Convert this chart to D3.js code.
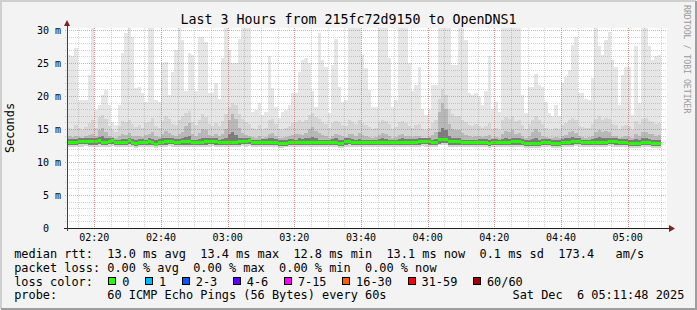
<!DOCTYPE html>
<html>
<head>
<meta charset="utf-8">
<script src="https://cdn.jsdelivr.net/npm/d3@7"></script>
<style>
html, body { margin: 0; padding: 0; background: #f3f3f3; }
svg { display: block; }
text { font-family: "DejaVu Sans Mono", monospace; white-space: pre; }
</style>
</head>
<body>
<svg id="chart" width="697" height="310"></svg>
<script>
// one value per minute, 02:12 .. 05:09 (ms)
var medianRtt = [
  13.0,13.0,13.0,13.1,13.1,13.1,13.1,13.1,13.1,13.2,
  13.0,13.0,13.1,13.2,12.9,12.9,13.0,13.0,13.2,13.0,
  12.8,13.0,13.0,12.9,13.1,12.9,12.7,13.0,13.0,13.1,
  13.1,13.1,13.0,13.0,13.1,13.1,13.1,12.9,12.9,13.0,
  13.0,13.1,13.1,13.1,13.1,12.9,12.9,12.9,13.0,13.0,
  13.0,13.1,13.1,13.1,13.2,12.9,12.9,12.9,13.0,13.0,
  13.0,13.0,13.0,12.8,12.8,12.8,13.0,13.0,12.9,13.0,
  13.0,13.0,13.0,13.0,13.0,12.9,12.9,12.9,12.9,13.0,
  13.0,12.8,12.8,13.1,13.1,12.9,12.9,12.9,12.9,12.9,
  12.9,12.9,12.9,12.9,12.9,12.9,12.9,12.9,12.9,13.0,
  13.0,13.0,13.0,13.0,13.0,13.1,13.1,13.1,13.1,12.9,
  12.9,13.4,13.4,13.4,13.1,13.1,13.1,13.1,12.9,12.9,
  12.9,12.9,12.9,13.0,13.0,13.0,12.8,13.0,13.0,12.9,
  12.9,12.9,12.9,13.1,13.1,13.1,13.0,12.8,12.8,12.8,
  12.8,12.8,13.0,13.0,13.0,12.8,12.8,12.8,13.0,13.0,
  13.0,13.1,13.1,13.1,12.9,12.9,12.9,12.9,12.9,13.0,
  13.0,13.0,13.1,13.1,13.1,13.0,13.0,13.0,12.8,12.8,
  12.8,12.8,13.0,13.0,13.0,12.8,12.8,12.8
];
// slowest ping of each minute
var smokeMax = [
  26.2,26.0,27.2,19.4,19.4,19.4,23.2,32,17.9,18.6,
  20.2,20.9,18.6,16.1,15.6,18.6,26.5,29.5,32,29.0,
  21.2,21.4,20.4,19.1,32,32,19.4,19.1,25.0,25.2,
  20.2,23.7,27.0,32,28.5,20.7,26.5,26.2,20.7,29.0,
  29.0,28.2,20.4,20.4,21.9,19.6,25.7,32,27.0,25.0,
  25.0,28.7,32,32,32,17.6,17.9,18.9,17.1,17.6,
  26.0,21.2,18.4,16.6,17.6,17.9,18.6,20.4,20.4,23.7,
  25.5,25.7,25.0,20.7,18.4,29.5,25.5,24.4,17.4,24.7,
  28.7,21.4,19.1,19.4,32,32,32,32,26.2,24.2,
  20.9,18.4,18.4,32,32,32,25.7,18.4,19.4,32,
  32,32,25.0,20.7,21.7,24.4,18.1,17.1,17.9,21.7,
  21.7,32,32,32,32,24.7,24.7,32,32,28.5,
  20.4,20.2,20.4,19.9,18.6,20.7,26.0,18.1,19.1,17.6,
  32,32,32,32,32,32,20.2,17.4,21.4,21.4,
  23.4,21.7,21.4,19.1,17.4,16.9,18.6,16.9,21.9,22.9,
  23.9,27.7,29.0,20.4,20.4,19.6,19.4,22.7,32,27.5,
  26.2,28.5,29.7,25.5,24.4,18.6,23.2,24.4,24.4,17.1,
  27.5,18.9,32,32,27.5,25.5,26.0,26.2
];
// upper edge of the mid grey smoke
var smokeHigh = [
  15.2,15.0,15.6,15.1,14.8,15.3,15.9,16.4,15.2,16.8,
  17.1,16.5,15.4,14.9,14.6,15.5,16.2,16.0,16.4,15.8,
  15.3,15.6,15.1,15.9,16.1,16.6,15.4,15.2,16.2,16.9,
  16.5,15.8,15.6,16.3,16.9,17.4,17.8,16.0,15.6,16.3,
  17.2,16.8,15.7,15.5,15.9,15.4,16.2,17.3,18.4,19.0,
  18.6,17.2,16.5,16.0,15.8,15.2,15.0,15.6,14.9,15.1,
  16.3,16.5,15.8,15.0,14.8,15.2,15.4,15.9,16.1,16.3,
  16.0,16.4,17.1,17.4,16.8,16.5,16.0,15.7,15.1,15.9,
  16.2,16.0,15.6,15.4,16.3,16.1,15.8,16.4,15.9,15.6,
  15.3,15.0,15.2,16.1,16.4,16.2,15.8,15.0,15.3,16.0,
  16.2,15.9,15.5,15.2,15.6,15.8,15.0,14.8,15.1,15.9,
  16.4,19.5,21.0,20.2,18.0,17.2,16.9,17.0,16.4,16.0,
  15.6,15.4,15.8,15.5,15.1,15.4,15.9,15.0,15.2,14.9,
  16.3,16.8,16.5,16.9,16.2,16.4,15.6,15.0,15.8,16.3,
  16.9,16.4,15.7,15.2,14.9,14.8,15.1,14.9,15.6,15.9,
  16.4,16.6,16.3,15.5,15.3,15.1,15.2,15.7,16.5,16.9,
  16.4,16.7,16.5,15.8,15.6,15.0,15.4,15.6,15.5,14.9,
  16.2,15.7,16.5,16.6,16.2,16.0,15.8,15.9
];
// upper edge of the dark grey smoke
var smokeMid = [
  13.9,13.8,14.0,13.8,13.7,13.9,14.1,14.3,13.9,14.8,
  15.2,14.6,14.0,13.8,13.7,13.9,14.2,14.1,14.4,14.0,
  13.9,14.0,13.8,14.1,14.2,14.5,13.9,13.8,14.3,14.7,
  14.4,14.1,14.0,14.2,14.6,15.4,15.9,14.3,14.0,14.4,
  15.0,14.8,14.1,13.9,14.2,13.9,14.3,15.0,16.4,17.2,
  16.5,15.1,14.4,14.1,14.0,13.8,13.7,13.9,13.7,13.8,
  14.3,14.4,14.0,13.7,13.6,13.8,13.9,14.1,14.2,14.3,
  14.1,14.4,15.0,15.3,14.7,14.4,14.1,13.9,13.7,14.0,
  14.2,14.1,13.9,13.8,14.3,14.2,14.0,14.4,14.1,13.9,
  13.8,13.7,13.8,14.1,14.4,14.2,14.0,13.7,13.8,14.1,
  14.2,14.0,13.9,13.8,13.9,14.0,13.7,13.6,13.8,14.1,
  14.6,17.5,19.0,18.1,15.8,15.0,14.8,14.9,14.4,14.1,
  13.9,13.8,14.0,13.9,13.8,13.9,14.1,13.7,13.8,13.6,
  14.3,14.7,14.5,14.8,14.2,14.4,13.9,13.7,14.0,14.5,
  15.0,14.6,14.0,13.8,13.6,13.6,13.8,13.7,14.0,14.1,
  14.5,14.7,14.4,13.9,13.8,13.7,13.8,14.0,14.6,14.9,
  14.5,14.7,14.6,14.0,13.9,13.7,13.8,13.9,13.8,13.6,
  14.3,14.0,14.5,14.6,14.3,14.2,14.0,14.1
];
// innermost pings around the median
var coreHigh = [
  13.5,13.5,13.5,13.6,13.6,13.6,13.6,13.6,13.6,13.8,
  13.9,13.6,13.6,13.7,13.4,13.4,13.5,13.5,13.7,13.5,
  13.3,13.5,13.5,13.4,13.6,13.5,13.3,13.5,13.6,13.7,
  13.6,13.6,13.5,13.5,13.6,13.8,13.9,13.4,13.4,13.5,
  13.7,13.6,13.6,13.6,13.6,13.4,13.5,13.6,14.2,14.6,
  14.1,13.7,13.6,13.6,13.7,13.4,13.4,13.4,13.5,13.5,
  13.6,13.6,13.5,13.3,13.3,13.3,13.5,13.5,13.4,13.6,
  13.5,13.6,13.7,13.8,13.6,13.4,13.4,13.4,13.4,13.5,
  13.6,13.3,13.3,13.6,13.7,13.5,13.4,13.5,13.4,13.4,
  13.4,13.4,13.4,13.5,13.6,13.5,13.4,13.4,13.4,13.5,
  13.6,13.5,13.5,13.5,13.5,13.6,13.6,13.6,13.6,13.4,
  13.5,14.6,15.2,14.8,13.9,13.7,13.6,13.7,13.4,13.4,
  13.4,13.4,13.4,13.5,13.5,13.5,13.4,13.5,13.5,13.4,
  13.5,13.6,13.5,13.7,13.6,13.7,13.5,13.3,13.4,13.5,
  13.6,13.4,13.5,13.5,13.5,13.3,13.3,13.3,13.5,13.6,
  13.7,13.8,13.7,13.6,13.4,13.4,13.4,13.5,13.7,13.8,
  13.6,13.6,13.7,13.6,13.6,13.5,13.5,13.5,13.3,13.3,
  13.5,13.3,13.6,13.6,13.5,13.4,13.3,13.3
];
// lower edge of the dark core
var coreLow = [
  12.6,12.6,12.6,12.7,12.7,12.7,12.6,12.6,12.6,12.7,
  12.6,12.6,12.7,12.7,12.5,12.5,12.6,12.6,12.7,12.6,
  12.4,12.6,12.6,12.5,12.6,12.5,12.4,12.6,12.6,12.6,
  12.7,12.7,12.6,12.6,12.6,12.6,12.6,12.5,12.5,12.6,
  12.6,12.6,12.7,12.7,12.6,12.5,12.5,12.5,12.6,12.6,
  12.6,12.6,12.7,12.7,12.7,12.5,12.5,12.5,12.6,12.6,
  12.6,12.6,12.6,12.4,12.4,12.4,12.6,12.6,12.5,12.6,
  12.6,12.6,12.6,12.6,12.6,12.5,12.5,12.5,12.5,12.6,
  12.6,12.4,12.4,12.6,12.7,12.5,12.5,12.5,12.5,12.5,
  12.5,12.5,12.5,12.5,12.5,12.5,12.5,12.5,12.5,12.6,
  12.6,12.6,12.6,12.6,12.6,12.6,12.7,12.7,12.6,12.5,
  12.5,12.8,12.9,12.9,12.6,12.6,12.6,12.6,12.5,12.5,
  12.5,12.5,12.5,12.6,12.6,12.6,12.4,12.6,12.6,12.5,
  12.5,12.5,12.5,12.6,12.6,12.6,12.6,12.4,12.4,12.4,
  12.4,12.4,12.6,12.6,12.6,12.4,12.4,12.4,12.6,12.6,
  12.6,12.6,12.7,12.7,12.5,12.5,12.5,12.5,12.5,12.6,
  12.6,12.6,12.7,12.7,12.6,12.6,12.6,12.6,12.4,12.4,
  12.4,12.4,12.6,12.6,12.6,12.4,12.4,12.4
];
// fastest ping of each minute
var smokeMin = [
  12.3,12.3,12.2,12.3,12.3,12.4,12.3,12.3,12.2,12.3,
  12.3,12.3,12.3,12.4,12.2,12.2,12.3,12.3,12.3,12.3,
  12.1,12.3,12.3,12.2,12.3,12.2,12.1,12.3,12.3,12.3,
  12.4,12.3,12.3,12.3,12.3,12.3,12.3,12.2,12.2,12.3,
  12.3,12.3,12.3,12.4,12.3,12.2,12.2,12.2,12.3,12.3,
  12.3,12.3,12.4,12.3,12.4,12.2,12.2,12.2,12.3,12.3,
  12.3,12.3,12.3,12.1,12.1,12.2,12.3,12.3,12.2,12.3,
  12.3,12.3,12.3,12.3,12.3,12.2,12.2,12.2,12.2,12.3,
  12.3,12.1,12.1,12.3,12.3,12.2,12.2,12.2,12.2,12.2,
  12.2,12.2,12.2,12.2,12.2,12.2,12.2,12.2,12.2,12.3,
  12.3,12.3,12.3,12.3,12.3,12.3,12.4,12.3,12.3,12.2,
  12.2,12.5,12.6,12.5,12.3,12.3,12.3,12.3,12.2,12.2,
  12.2,12.2,12.2,12.3,12.3,12.3,12.1,12.3,12.3,12.2,
  12.2,12.2,12.2,12.3,12.3,12.3,12.3,12.1,12.1,12.1,
  12.1,12.1,12.3,12.3,12.3,12.1,12.1,12.1,12.3,12.3,
  12.3,12.3,12.4,12.3,12.2,12.2,12.2,12.2,12.2,12.3,
  12.3,12.3,12.4,12.3,12.3,12.3,12.3,12.3,12.1,12.1,
  12.1,12.1,12.3,12.3,12.3,12.1,12.1,12.1
];

var yTicks = [0, 5, 10, 15, 20, 25, 30];
var lossLabels = ["0", "1", "2-3", "4-6", "7-15", "16-30", "31-59", "60/60"];
var lossColors = ["#26ff00", "#00b8ff", "#0059ff", "#5e00ff", "#ff00ff", "#ff5e00", "#ff0000", "#a10000"];
var statLines = [
  "median rtt:  13.0 ms avg  13.4 ms max  12.8 ms min  13.1 ms now  0.1 ms sd  173.4   am/s",
  "packet loss: 0.00 % avg  0.00 % max  0.00 % min  0.00 % now"
];
var probeLine = "probe:       60 ICMP Echo Pings (56 Bytes) every 60s";
var stampLine = "Sat Dec  6 05:11:48 2025";
var titleText = "Last 3 Hours from 215fc72d9150 to OpenDNS1";

var svg = d3.select("#chart");
var width = 697, height = 310;
var cLeft = 67, cRight = 667, cTop = 28, cBottom = 228;

var start = new Date(2025, 11, 6, 2, 11, 48);
var end = new Date(2025, 11, 6, 5, 11, 48);
var first = new Date(2025, 11, 6, 2, 12, 0);
var n = medianRtt.length;
var times = d3.range(n).map(function (i) { return d3.timeMinute.offset(first, i); });

var x = d3.scaleTime().domain([start, end]).range([cLeft, cRight]);
var y = d3.scaleLinear().domain([0, 30.303]).range([cBottom, cTop]);

// frame
svg.append("rect").attr("width", width).attr("height", height).attr("fill", "#f3f3f3");
svg.append("path").attr("d", "M1,309V1H696").attr("fill", "none").attr("stroke", "#cfcfcf").attr("stroke-width", 2);
svg.append("path").attr("d", "M1,309H696V1").attr("fill", "none").attr("stroke", "#9e9e9e").attr("stroke-width", 2);

svg.append("defs").append("clipPath").attr("id", "canvas")
  .append("rect").attr("x", cLeft).attr("y", cTop).attr("width", cRight - cLeft).attr("height", cBottom - cTop);

svg.append("rect").attr("x", cLeft).attr("y", cTop).attr("width", cRight - cLeft).attr("height", cBottom - cTop)
  .attr("fill", "#ffffff");

var plot = svg.append("g").attr("clip-path", "url(#canvas)");

function colX(i) { return x(times[i]); }
function colW(i) { return x(d3.timeMinute.offset(times[i], 1)) - x(times[i]); }

function smoke(lo, hi, color) {
  plot.append("g").attr("shape-rendering", "crispEdges")
    .selectAll("rect")
    .data(d3.range(n))
    .enter().append("rect")
    .attr("x", colX)
    .attr("width", colW)
    .attr("y", function (i) { return y(hi[i]); })
    .attr("height", function (i) { return Math.max(0, y(lo[i]) - y(hi[i])); })
    .attr("fill", color);
}
smoke(smokeMin, smokeMax, "#e6e6e6");
smoke(smokeMin, smokeHigh, "#d5d5d5");
smoke(coreLow, smokeMid, "#b8b8b8");
smoke(coreLow, coreHigh, "#7c7c7c");

// grid, with the little ticks past the axes
var grid = svg.append("g").attr("shape-rendering", "crispEdges");
var minorT = x.ticks(d3.timeMinute.every(5));
var majorT = x.ticks(d3.timeMinute.every(20));
grid.selectAll("line.vmin").data(minorT).enter().append("line")
  .attr("x1", function (d) { return Math.round(x(d)) + 0.5; })
  .attr("x2", function (d) { return Math.round(x(d)) + 0.5; })
  .attr("y1", cTop).attr("y2", cBottom + 2)
  .attr("stroke", "rgba(143,143,143,0.38)").attr("stroke-dasharray", "1,1");
grid.selectAll("line.hmin").data(d3.range(1, 31).filter(function (v) { return v % 5 !== 0; })).enter().append("line")
  .attr("y1", function (d) { return Math.round(y(d)) + 0.5; })
  .attr("y2", function (d) { return Math.round(y(d)) + 0.5; })
  .attr("x1", cLeft - 2).attr("x2", cRight)
  .attr("stroke", "rgba(143,143,143,0.38)").attr("stroke-dasharray", "1,1");
grid.selectAll("line.vmaj").data(majorT).enter().append("line")
  .attr("x1", function (d) { return Math.round(x(d)) + 0.5; })
  .attr("x2", function (d) { return Math.round(x(d)) + 0.5; })
  .attr("y1", cTop).attr("y2", cBottom + 2)
  .attr("stroke", "rgba(222,80,80,0.5)").attr("stroke-dasharray", "1,1");
grid.selectAll("line.hmaj").data(yTicks.slice(1)).enter().append("line")
  .attr("y1", function (d) { return Math.round(y(d)) + 0.5; })
  .attr("y2", function (d) { return Math.round(y(d)) + 0.5; })
  .attr("x1", cLeft - 2).attr("x2", cRight)
  .attr("stroke", "rgba(222,80,80,0.5)").attr("stroke-dasharray", "1,1");

// median, coloured by loss (all 0 here)
plot.append("g").attr("shape-rendering", "crispEdges")
  .selectAll("rect")
  .data(d3.range(n))
  .enter().append("rect")
  .attr("x", colX)
  .attr("width", colW)
  .attr("y", function (i) { return y(medianRtt[i]) - 1.5; })
  .attr("height", 3)
  .attr("fill", lossColors[0]);

// axes
var axisG = svg.append("g").attr("shape-rendering", "crispEdges");
axisG.append("line").attr("x1", cLeft - 3).attr("x2", cRight + 2).attr("y1", cBottom + 0.5).attr("y2", cBottom + 0.5)
  .attr("stroke", "#202020");
axisG.append("line").attr("x1", cLeft + 0.5).attr("x2", cLeft + 0.5).attr("y1", cBottom + 3).attr("y2", cTop - 3)
  .attr("stroke", "#404040");
svg.append("path").attr("d", "M64,26L70,26L67,20Z").attr("fill", "#7f1f1f");
svg.append("path").attr("d", "M669,225L669,232L675,228.5Z").attr("fill", "#7f1f1f");

svg.append("g").selectAll("text").data(yTicks).enter().append("text")
  .attr("x", 61)
  .attr("y", function (d) { return y(d); })
  .attr("dy", "0.36em")
  .attr("text-anchor", "end")
  .attr("font-size", "10px")
  .text(function (d) { return d === 0 ? "0  " : d + " m"; });

var fmt = d3.timeFormat("%H:%M");
svg.append("g").selectAll("text").data(majorT).enter().append("text")
  .attr("x", function (d) { return x(d); })
  .attr("y", 240.5)
  .attr("text-anchor", "middle")
  .attr("font-size", "10px")
  .text(fmt);

// titles
svg.append("text").attr("x", 348.5).attr("y", 24).attr("text-anchor", "middle")
  .attr("font-size", "13.3px").text(titleText);
svg.append("text").attr("transform", "translate(14,128) rotate(-90)").attr("text-anchor", "middle")
  .attr("font-size", "11.9px").text("Seconds");
svg.append("text").attr("transform", "translate(684,5) rotate(90)")
  .attr("font-size", "8.2px").attr("fill", "#9a9a9a").text("RRDTOOL / TOBI OETIKER");

// legend
var lx = 14.2, lfs = "11.9px", cw = 7.16;
svg.append("g").selectAll("text").data(statLines).enter().append("text")
  .attr("x", lx).attr("y", function (d, i) { return 258.3 + i * 13.7; })
  .attr("font-size", lfs).text(function (d) { return d; });
svg.append("text").attr("x", lx).attr("y", 285.7).attr("font-size", lfs).text("loss color:");
var boxX = [];
lossLabels.reduce(function (bx, lab) { boxX.push(bx); return bx + 14.4 + lab.length * cw + 15.2; }, 108.3);
var lg = svg.append("g").selectAll("g").data(lossLabels).enter().append("g");
lg.append("rect")
  .attr("x", function (d, i) { return Math.round(boxX[i]) + 0.5; })
  .attr("y", 277.5).attr("width", 7).attr("height", 7)
  .attr("fill", function (d, i) { return lossColors[i]; })
  .attr("stroke", "#000").attr("shape-rendering", "crispEdges");
lg.append("text")
  .attr("x", function (d, i) { return boxX[i] + 13.9; })
  .attr("y", 285.7).attr("font-size", lfs).text(function (d) { return d; });
svg.append("text").attr("x", lx).attr("y", 299.4).attr("font-size", lfs).text(probeLine);
svg.append("text").attr("x", 512.5).attr("y", 299.4).attr("font-size", lfs).text(stampLine);
</script>
</body>
</html>
